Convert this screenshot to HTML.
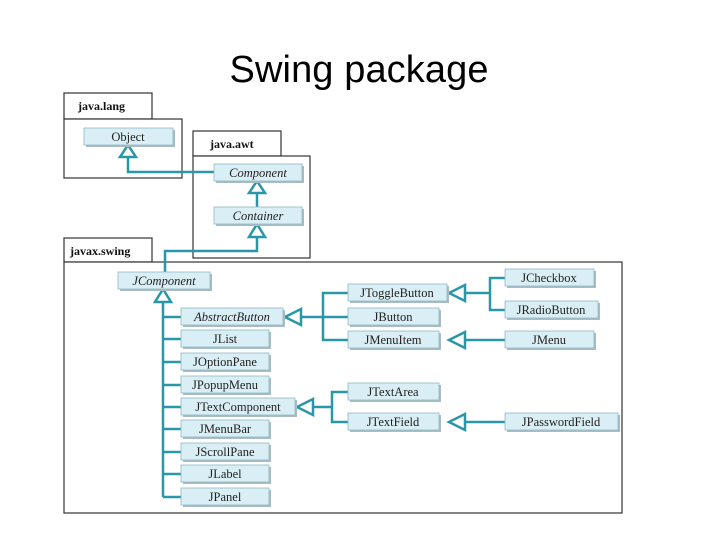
<!DOCTYPE html>
<html><head><meta charset="utf-8"><style>
html,body{margin:0;padding:0;background:#fff;}
svg{display:block}
.t{font-family:"Liberation Serif",serif;font-size:12.5px;fill:#222;text-anchor:middle}
.i{font-style:italic}
.p{font-family:"Liberation Serif",serif;font-size:12px;font-weight:bold;fill:#111}
.ln{stroke:#2a97a8;stroke-width:2.5;fill:none}
.tri{stroke:#2a97a8;stroke-width:2.5;fill:#fff}
.pk{fill:#fff;stroke:#333;stroke-width:1.2}
</style></head><body>
<svg width="720" height="540" viewBox="0 0 720 540" xmlns="http://www.w3.org/2000/svg">
<defs>
<g id="dummy"></g>
</defs>
<text x="359" y="82" font-family="Liberation Sans, sans-serif" font-size="38" text-anchor="middle" textLength="259" fill="#000">Swing package</text>

<!-- packages -->
<rect class="pk" x="64" y="93" width="88" height="26"/>
<rect class="pk" x="64" y="119" width="118" height="59"/>
<text class="p" x="78" y="110">java.lang</text>
<rect class="pk" x="193" y="131" width="88" height="25"/>
<rect class="pk" x="193" y="156" width="117" height="102"/>
<text class="p" x="210" y="148">java.awt</text>
<rect class="pk" x="64" y="238" width="88" height="24"/>
<rect class="pk" x="64" y="262" width="558" height="251"/>
<text class="p" x="70" y="255">javax.swing</text>

<!-- connectors -->
<polyline class="ln" points="128,157 128,172 214,172"/>
<polyline class="ln" points="257,193 257,207"/>
<polyline class="ln" points="257,237 257,251 165,251 165,272"/>
<line class="ln" x1="163" y1="302" x2="163" y2="497"/>
<g class="ln">
<line x1="163" y1="317" x2="181" y2="317"/><line x1="163" y1="339" x2="181" y2="339"/>
<line x1="163" y1="362" x2="181" y2="362"/><line x1="163" y1="385" x2="181" y2="385"/>
<line x1="163" y1="407" x2="181" y2="407"/><line x1="163" y1="429" x2="181" y2="429"/>
<line x1="163" y1="452" x2="181" y2="452"/><line x1="163" y1="474" x2="181" y2="474"/>
<line x1="163" y1="497" x2="181" y2="497"/>
<polyline points="301,317 323,317"/><polyline points="348,293 323,293 323,340 348,340"/><line x1="323" y1="317" x2="348" y2="317"/>
<polyline points="465,293 490,293"/><polyline points="505,278 490,278 490,310 505,310"/>
<line x1="465" y1="340" x2="505" y2="340"/>
<line x1="313" y1="407" x2="332" y2="407"/><polyline points="348,392 332,392 332,422 348,422"/>
<line x1="465" y1="422" x2="505" y2="422"/>
</g>
<!-- triangles -->
<polygon class="tri" points="128,145 120,157 136,157"/>
<polygon class="tri" points="257,181 249,193 265,193"/>
<polygon class="tri" points="257,224 249,237 265,237"/>
<polygon class="tri" points="163,289 155,302 171,302"/>
<polygon class="tri" points="285,317 301,309 301,325"/>
<polygon class="tri" points="297,407 313,399 313,415"/>
<polygon class="tri" points="449,293 465,285 465,301"/>
<polygon class="tri" points="449,340 465,332 465,348"/>
<polygon class="tri" points="449,422 465,414 465,430"/>

<!-- boxes -->
<g>
<g fill="#a9bcc2">
<rect x="86" y="130" width="89" height="17"/>
<rect x="216" y="166" width="88" height="17"/>
<rect x="216" y="209" width="88" height="17"/>
<rect x="120" y="274" width="92" height="17"/>
<rect x="183" y="310" width="102" height="17"/>
<rect x="183" y="332" width="88" height="17"/>
<rect x="183" y="355" width="88" height="17"/>
<rect x="183" y="378" width="88" height="17"/>
<rect x="183" y="400" width="114" height="17"/>
<rect x="183" y="422" width="88" height="17"/>
<rect x="183" y="445" width="88" height="17"/>
<rect x="183" y="467" width="88" height="17"/>
<rect x="183" y="490" width="88" height="17"/>
<rect x="350" y="286" width="99" height="17"/>
<rect x="350" y="310" width="91" height="17"/>
<rect x="350" y="333" width="91" height="17"/>
<rect x="350" y="385" width="91" height="17"/>
<rect x="350" y="415" width="91" height="17"/>
<rect x="507" y="271" width="89" height="17"/>
<rect x="507" y="303" width="93" height="17"/>
<rect x="507" y="333" width="89" height="17"/>
<rect x="507" y="415" width="113" height="17"/>
</g>
<g fill="#daeff5" stroke="#8fb7c2" stroke-width="0.8">
<rect x="84" y="128" width="89" height="17"/>
<rect x="214" y="164" width="88" height="17"/>
<rect x="214" y="207" width="88" height="17"/>
<rect x="118" y="272" width="92" height="17"/>
<rect x="181" y="308" width="102" height="17"/>
<rect x="181" y="330" width="88" height="17"/>
<rect x="181" y="353" width="88" height="17"/>
<rect x="181" y="376" width="88" height="17"/>
<rect x="181" y="398" width="114" height="17"/>
<rect x="181" y="420" width="88" height="17"/>
<rect x="181" y="443" width="88" height="17"/>
<rect x="181" y="465" width="88" height="17"/>
<rect x="181" y="488" width="88" height="17"/>
<rect x="348" y="284" width="99" height="17"/>
<rect x="348" y="308" width="91" height="17"/>
<rect x="348" y="331" width="91" height="17"/>
<rect x="348" y="383" width="91" height="17"/>
<rect x="348" y="413" width="91" height="17"/>
<rect x="505" y="269" width="89" height="17"/>
<rect x="505" y="301" width="93" height="17"/>
<rect x="505" y="331" width="89" height="17"/>
<rect x="505" y="413" width="113" height="17"/>
</g>
<text class="t" x="128" y="141">Object</text>
<text class="t i" x="258" y="177">Component</text>
<text class="t i" x="258" y="220">Container</text>
<text class="t i" x="164" y="285">JComponent</text>
<text class="t i" x="232" y="321">AbstractButton</text>
<text class="t" x="225" y="343">JList</text>
<text class="t" x="225" y="366">JOptionPane</text>
<text class="t" x="225" y="389">JPopupMenu</text>
<text class="t" x="238" y="411">JTextComponent</text>
<text class="t" x="225" y="433">JMenuBar</text>
<text class="t" x="225" y="456">JScrollPane</text>
<text class="t" x="225" y="478">JLabel</text>
<text class="t" x="225" y="501">JPanel</text>
<text class="t" x="397" y="297">JToggleButton</text>
<text class="t" x="393" y="321">JButton</text>
<text class="t" x="393" y="344">JMenuItem</text>
<text class="t" x="393" y="396">JTextArea</text>
<text class="t" x="393" y="426">JTextField</text>
<text class="t" x="549" y="282">JCheckbox</text>
<text class="t" x="551" y="314">JRadioButton</text>
<text class="t" x="549" y="344">JMenu</text>
<text class="t" x="561" y="426">JPasswordField</text>
</g>
</svg>
</body></html>
